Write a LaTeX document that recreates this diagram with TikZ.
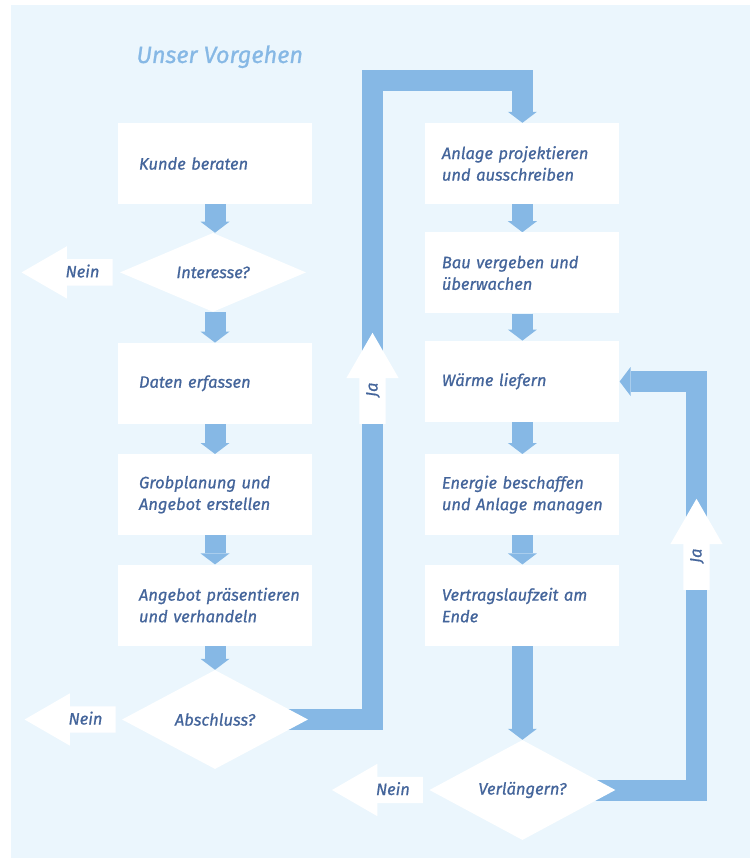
\documentclass[tikz,border=0pt]{standalone}
\usepackage{fontspec}
\setmainfont{Fira Sans}[ItalicFeatures={FakeBold=0.8}]
\usetikzlibrary{positioning,arrows.meta,shapes.geometric,shapes.arrows}

\definecolor{hgblau}{HTML}{EBF6FD}
\definecolor{bandblau}{HTML}{86B8E5}
\definecolor{textblau}{HTML}{44659B}

\pgfdeclarelayer{hg}
\pgfdeclarelayer{baender}
\pgfsetlayers{hg,baender,main}

\hyphenpenalty=10000
\exhyphenpenalty=10000

\begin{document}
\begin{tikzpicture}[x=1pt, y=-1pt,
  schritt/.style={
    rectangle, fill=white, minimum width=194pt, minimum height=81pt,
    text width=176pt, inner xsep=9pt, align=left, text=textblau,
    font=\fontsize{16.5}{21.6}\selectfont\itshape,
    execute at begin node={\leftskip=12pt}
  },
  schrittr/.style={
    schritt, execute at begin node={\leftskip=7.5pt}
  },
  frage/.style={
    diamond, aspect=2.35, fill=white, minimum width=186pt, minimum height=79pt,
    inner sep=0pt, text=textblau, font=\fontsize{16.5}{21.6}\selectfont\itshape
  },
  fluss/.style={
    draw=bandblau, line width=21pt, line join=miter,
    -{Triangle[width=29pt,length=11pt,line width=0pt]}
  },
  pfeiltext/.style={
    single arrow, fill=white, text=textblau,
    font=\fontsize{16.5}{21.6}\selectfont\itshape,
    single arrow head extend=13pt, single arrow tip angle=60,
    minimum height=91pt, inner xsep=2pt, inner ysep=5pt,
    text height=13pt, text depth=3pt
  },
  nein/.style={
    pfeiltext, shape border rotate=180,
    execute at begin node={\hspace*{8pt}}
  },
  ja/.style={
    pfeiltext, rotate=90
  },
  titel/.style={
    text=bandblau, font=\fontsize{23.5}{28}\selectfont\itshape
  }
]
\useasboundingbox (0,0) rectangle (750,858);

% Hintergrund
\begin{pgfonlayer}{hg}
\fill[hgblau] (11,5) rectangle (750,858);
\end{pgfonlayer}

\node[titel, anchor=base west] (titel) at (133,63) {Unser Vorgehen};

% linke Spalte
\node[schritt] (kunde) at (215,163.5) {Kunde beraten};
\node[frage, below=28.5pt of kunde, xshift=-2pt] (interesse) {Interesse?};
\node[schritt, below=30.5pt of interesse, xshift=2pt] (daten) {Daten erfassen};
\node[schritt, below=30pt of daten] (grob) {Grobplanung und\\Angebot erstellen};
\node[schritt, below=29pt of grob] (angebot) {Angebot präsentieren\\und verhandeln};
\node[frage, minimum height=99pt, below=24pt of angebot] (abschluss) {Abschluss?};

% rechte Spalte
\node[schrittr, right=113pt of kunde] (anlage) {Anlage projektieren\\und ausschreiben};
\node[schrittr, below=28pt of anlage] (bau) {Bau vergeben und\\überwachen};
\node[schrittr, below=27pt of bau] (waerme) {Wärme liefern};
\node[schrittr, below=32pt of waerme] (energie) {Energie beschaffen\\und Anlage managen};
\node[schrittr, below=29pt of energie] (vertrag) {Vertragslaufzeit am\\Ende};
\node[frage, minimum height=100pt, below=94pt of vertrag] (verlaengern) {Verlängern?};

% Nein
\node[nein, left=7pt of interesse] (nein1) {Nein};
\node[nein, left=6pt of abschluss] (nein2) {Nein};
\node[nein, left=6pt of verlaengern] (nein3) {Nein};

% Knicke
\coordinate (knickoben) at (372.5,80.5);
\coordinate (knickrechts) at (696.5,381.5);

% Verbindungen
\begin{pgfonlayer}{baender}
\draw[fluss] (kunde) -- (kunde |- interesse.north);
\draw[fluss] (interesse.south -| daten) -- (daten);
\draw[fluss] (daten) -- (grob);
\draw[fluss] (grob) -- (angebot);
\draw[fluss] (angebot) -- (abschluss);
\draw[fluss] (abschluss.center) -| (knickoben) -| (anlage.north);
\draw[fluss] (anlage) -- (bau);
\draw[fluss] (bau) -- (waerme);
\draw[fluss] (waerme) -- (energie);
\draw[fluss] (energie) -- (vertrag);
\draw[fluss] (vertrag) -- (verlaengern);
\draw[fluss] (verlaengern.center) -| (knickrechts) -- (knickrechts -| waerme.east);
\end{pgfonlayer}

% Ja
\node[ja, anchor=tail] (ja1) at (372.5,424) {Ja};
\node[ja, anchor=tail] (ja2) at (696.5,590) {Ja};

\end{tikzpicture}
\end{document}
